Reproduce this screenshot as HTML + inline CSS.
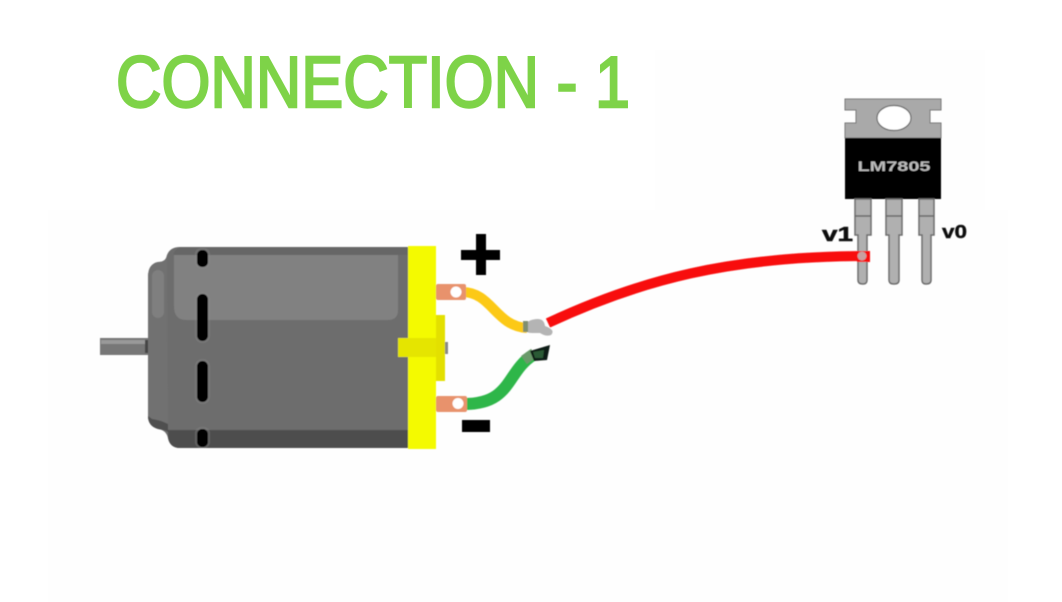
<!DOCTYPE html>
<html>
<head>
<meta charset="utf-8">
<style>
html,body{margin:0;padding:0;background:#fff;width:1062px;height:602px;overflow:hidden}
svg{display:block}
</style>
</head>
<body>
<svg width="1062" height="602" viewBox="0 0 1062 602" xmlns="http://www.w3.org/2000/svg">
<defs><filter id="b" x="-5%" y="-5%" width="110%" height="110%"><feGaussianBlur stdDeviation="0.6"/></filter></defs>
<rect width="1062" height="602" fill="#fff"/>
<rect x="48" y="210" width="960" height="392" fill="#fefefe"/>
<rect x="655" y="50" width="330" height="240" fill="#fefefe"/>
<text x="116" y="107" font-family="'Liberation Sans',sans-serif" font-size="72" fill="#7ed348" stroke="#7ed348" stroke-width="2.4" textLength="514" lengthAdjust="spacingAndGlyphs">CONNECTION - 1</text>

<g filter="url(#b)">
<!-- shaft -->
<rect x="100" y="338" width="48" height="17" fill="#777"/>
<rect x="101" y="340" width="46" height="4" fill="#999"/>
<rect x="145" y="340" width="3" height="13" fill="#444"/>
<!-- motor body -->
<path d="M180 247H408V448H180Q170 448 168 438Q166 430 158 429Q148 426 148 416V277Q148 264 158 262Q166 262 167 255Q170 247 180 247Z" fill="#6d6d6d"/>
<path d="M148 416V277Q148 264 158 262Q166 262 167 255L168 430Q166 430 158 429Q148 426 148 416Z" fill="#717171"/>
<path d="M174 255H398V310Q398 320 388 320H186Q174 320 174 306Z" fill="#818181"/>
<rect x="152" y="270" width="12" height="48" rx="6" fill="#7f7f7f"/>
<path d="M180 247H408V255H174Q172 252 180 247Z" fill="#666"/>
<path d="M168 430H408V448H180Q170 448 168 438Z" fill="#4e4e4e"/>
<path d="M148 416Q148 426 158 429Q166 430 168 432V424Q160 420 152 419Z" fill="#505050"/>
<!-- slots -->
<rect x="195" y="248" width="15" height="21" rx="6" fill="#8a8a8a" opacity=".35"/>
<rect x="195" y="292" width="15" height="51" rx="7" fill="#8a8a8a" opacity=".35"/>
<rect x="195" y="359" width="15" height="45" rx="7" fill="#8a8a8a" opacity=".35"/>
<rect x="195" y="427" width="15" height="21" rx="6" fill="#8a8a8a" opacity=".35"/>
<rect x="197" y="250" width="11" height="17" rx="5" fill="#000"/>
<rect x="197" y="294" width="11" height="47" rx="5.5" fill="#000"/>
<rect x="197" y="361" width="11" height="41" rx="5.5" fill="#000"/>
<rect x="197" y="429" width="11" height="18" rx="5" fill="#000"/>
<!-- yellow end cap -->
<rect x="408" y="246" width="28" height="203" fill="#f4fa00"/>
<rect x="398" y="338" width="38" height="19" fill="#e5e500"/>
<rect x="436" y="315" width="9" height="66" fill="#e3e000"/>
<rect x="445" y="342" width="3" height="12" fill="#888"/>
<!-- wires -->
<path d="M462 292C492 292 495 326 527 328" fill="none" stroke="#fcc915" stroke-width="10"/>
<path d="M464 404C512 404 506 372 533 355" fill="none" stroke="#2db64a" stroke-width="12"/>
<path d="M524 360L534 353" stroke="#6a9a6a" stroke-width="10"/>
<path d="M530 351L550 345L547 360L534 361Z" fill="#0e1a12"/>
<path d="M533 352L544 350L543 358L535 358Z" fill="#2c5a35"/>
<!-- terminals -->
<rect x="436" y="284" width="30" height="16" rx="2" fill="#e8926c"/>
<circle cx="456" cy="292" r="5.500" fill="#fff"/>
<rect x="436" y="396" width="31" height="16" rx="2" fill="#e8926c"/>
<circle cx="458" cy="403.500" r="5.500" fill="#fff"/>
<!-- red wire -->
<path d="M548 323C640 280 730 256 868 256" fill="none" stroke="#f80c0c" stroke-width="10"/>
<!-- splice -->
<path d="M524 326Q528 319 538 319Q544 319 545 326Q556 330 551 335Q546 337 540 333H532Q524 333 524 326Z" fill="#b4b4b4"/>
<rect x="523" y="321" width="5" height="11" fill="#7f8f70"/>
<!-- plus / minus -->
<rect x="461" y="250" width="39" height="10" fill="#000"/>
<rect x="476" y="234" width="10" height="41" fill="#000"/>
<rect x="462" y="420" width="28" height="12" fill="#000"/>
<!-- regulator -->
<path d="M845 99H941V110H930V123H941V138H845V123H856V110H845Z" fill="#a9a9a9" stroke="#777" stroke-width="1"/>
<ellipse cx="894" cy="118" rx="17" ry="12.500" fill="#fff" stroke="#666" stroke-width="1.200"/>
<rect x="845" y="138" width="96" height="61" fill="#000"/>
<text x="894" y="171" text-anchor="middle" font-family="'Liberation Sans',sans-serif" font-weight="bold" font-size="14" fill="#bbb" textLength="73" lengthAdjust="spacingAndGlyphs">LM7805</text>
<g fill="#b0b0b0" stroke="#6c6c6c" stroke-width="1.500">
<path d="M855 199H871V235H867V280Q867 284 863 284Q858 284 858 280V235H855Z"/>
<path d="M886 199H902V235H899V280Q899 284 894 284Q889 284 889 280V235H886Z"/>
<path d="M919 199H934V235H931V280Q931 284 926 284Q922 284 922 280V235H919Z"/>
</g>
<path d="M855 216H871M886 216H902M919 216H934" stroke="#666" stroke-width="1.500"/>
<rect x="857" y="251" width="13" height="11" fill="#f80c0c"/>
<circle cx="862" cy="256" r="4.500" fill="#c9a0a0"/>
<text x="822" y="241" font-family="'Liberation Sans',sans-serif" font-weight="bold" font-size="20" fill="#111" stroke="#111" stroke-width=".5" textLength="31" lengthAdjust="spacingAndGlyphs">v1</text>
<text x="942" y="238" font-family="'Liberation Sans',sans-serif" font-weight="bold" font-size="18" fill="#111" stroke="#111" stroke-width=".4" textLength="25" lengthAdjust="spacingAndGlyphs">v0</text>
</g>
</svg>
</body>
</html>
